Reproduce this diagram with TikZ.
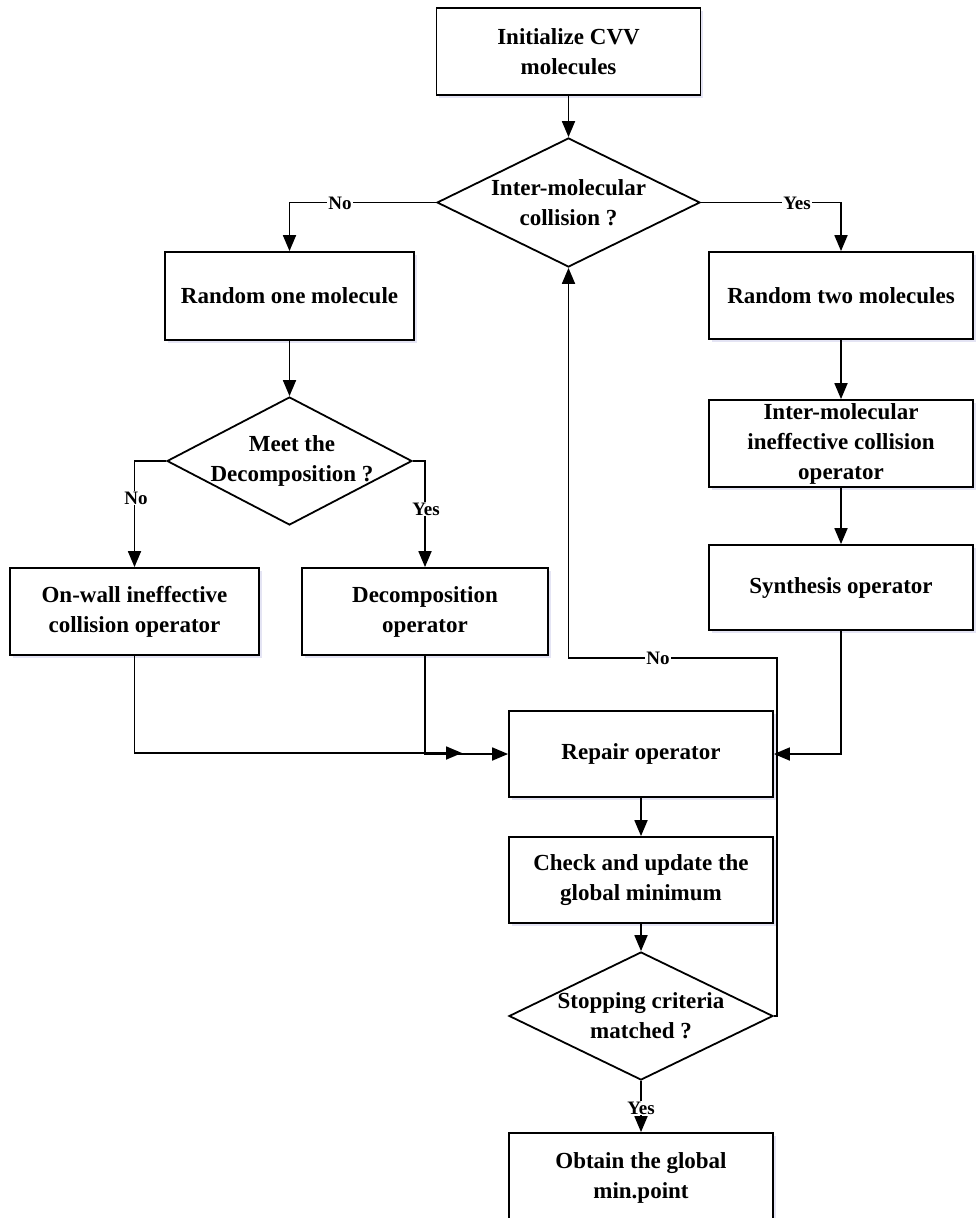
\documentclass[tikz,border=0pt]{standalone}
\usepackage{fontspec}
\setmainfont{Liberation Serif}
\usetikzlibrary{arrows.meta,shapes.geometric,shadows}
\tikzset{
  box/.style={draw=black, line width=1.8pt, fill=white, rectangle, inner sep=0pt,
    align=center, font=\bfseries\fontsize{23}{30}\selectfont,
    drop shadow={shadow xshift=2.5pt, shadow yshift=-2.5pt, fill=blue!40!gray, opacity=0.15}},
  dia/.style={draw=black, line width=1.8pt, fill=white, diamond, inner sep=0pt},
  dtext/.style={align=center, font=\bfseries\fontsize{23}{30}\selectfont, inner sep=0pt},
  lab/.style={fill=white, inner sep=1pt, font=\bfseries\fontsize{19}{21}\selectfont},
  conn/.style={line width=1.8pt, -{Triangle[length=16pt,width=13pt]}},
}
\begin{document}
\begin{tikzpicture}[x=1pt,y=-1pt]
\useasboundingbox (0,0) rectangle (976,1218);
\clip (0,0) rectangle (976,1218);
% boxes
\node[box, minimum width=264pt, minimum height=87pt] (init) at (568.5,51.5) {Initialize CVV\\molecules};
\node[box, minimum width=249pt, minimum height=88pt] (rone) at (289.5,296) {Random one molecule};
\node[box, minimum width=264pt, minimum height=87pt] (rtwo) at (841,295.5) {Random two molecules};
\node[box, minimum width=264pt, minimum height=87pt] (iic) at (841,443.5) {Inter-molecular\\ineffective collision\\operator};
\node[box, minimum width=264pt, minimum height=85pt] (syn) at (841,587.5) {Synthesis operator};
\node[box, minimum width=249pt, minimum height=87pt] (onwall) at (134.5,611.5) {On-wall ineffective\\collision operator};
\node[box, minimum width=246pt, minimum height=87pt] (decomp) at (425,611.5) {Decomposition\\operator};
\node[box, minimum width=264pt, minimum height=86pt] (repair) at (641,754) {Repair operator};
\node[box, minimum width=264pt, minimum height=86pt] (check) at (641,880) {Check and update the\\global minimum};
\node[box, minimum width=264pt, minimum height=92pt] (obtain) at (641,1179) {};
\node[dtext] (obtaintxt) at (641,1178) {Obtain the global\\min.point};
% diamonds
\node[dia, minimum width=263pt, minimum height=129pt] (d1) at (568.5,202.5) {};
\node[dtext] (d1t) at (d1) {Inter-molecular\\collision ?};
\node[dia, minimum width=245pt, minimum height=128pt] (d2) at (289.5,461) {};
\node[dtext] (d2t) at (292,461) {Meet the\\Decomposition ?};
\node[dia, minimum width=264pt, minimum height=128pt] (d3) at (641,1016) {};
\node[dtext] (d3t) at (641,1016) {Stopping criteria\\matched ?};
% coordinates
\coordinate (join) at (462,753);
\coordinate (loop) at (777,658);
% connectors
\draw[conn] (init.south) -- (d1.north);
\draw[conn] (d1.west) -| (rone.north);
\draw[conn] (d1.east) -| (rtwo.north);
\draw[conn] (rone.south) -- (d2.north);
\draw[conn] (d2.west) -| (onwall.north);
\draw[conn] (d2.east) -| (decomp.north);
\draw[conn] (rtwo.south) -- (iic.north);
\draw[conn] (iic.south) -- (syn.north);
\draw[conn] (syn.south) |- (repair.east);
\draw[conn] (onwall.south) |- (join);
\draw[conn] (decomp.south) |- (repair.west);
\draw[conn] (repair.south) -- (check.north);
\draw[conn] (check.south) -- (d3.north);
\draw[conn] (d3.south) -- (obtain.north);
\draw[conn] (d3.east) -| (loop) -| (d1.south);
% labels
\node[lab] (l1) at (340,203) {No};
\node[lab] (l2) at (797,203) {Yes};
\node[lab] (l3) at (136,498) {No};
\node[lab] (l4) at (426,509) {Yes};
\node[lab] (l5) at (658,658) {No};
\node[lab] (l6) at (641,1108) {Yes};
\end{tikzpicture}
\end{document}
